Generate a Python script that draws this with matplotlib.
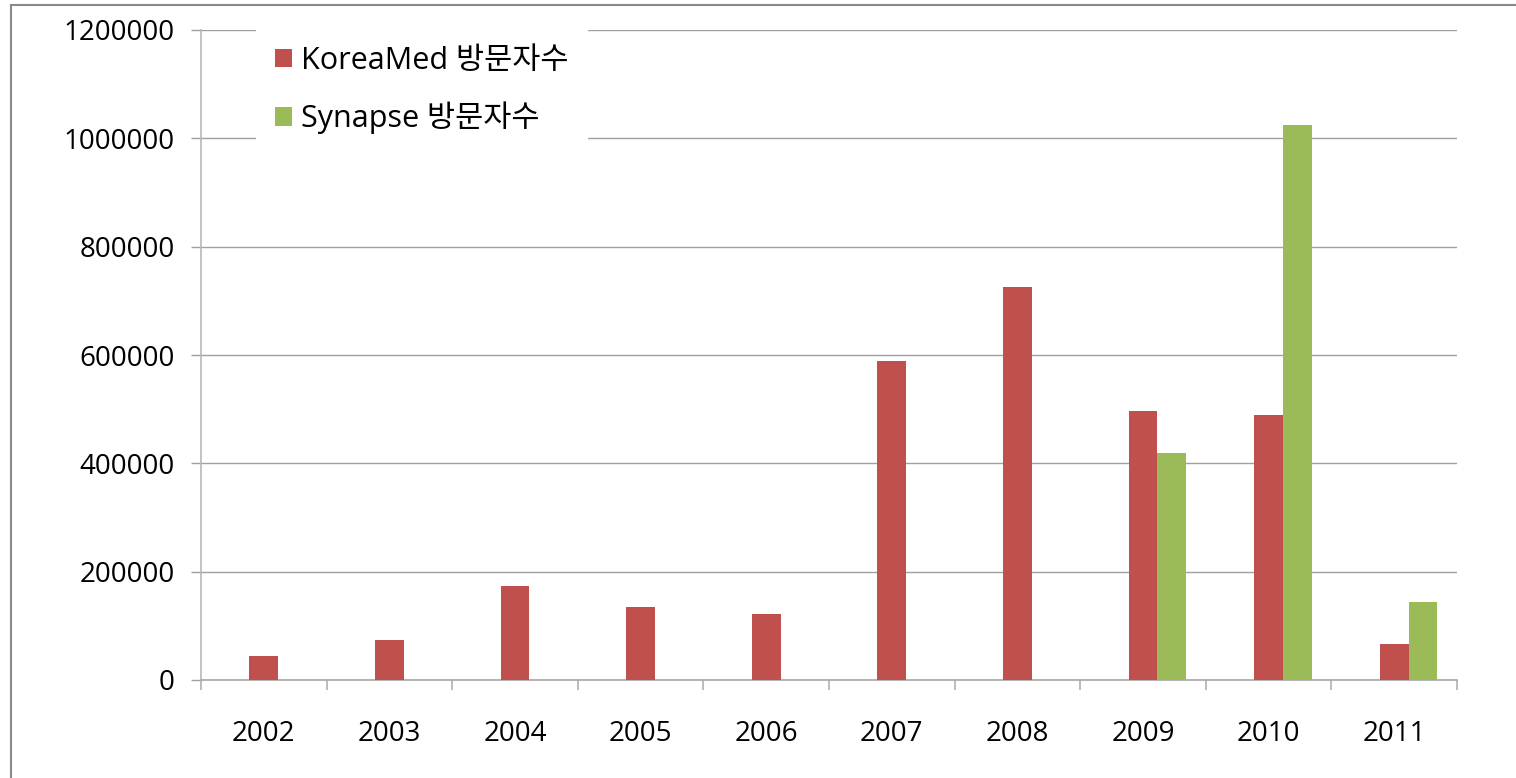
import matplotlib
matplotlib.use("Agg")
import matplotlib.pyplot as plt
import numpy as np
from matplotlib.patches import Patch, Rectangle
from matplotlib.lines import Line2D

plt.rcParams['font.family'] = ['Open Sans', 'Noto Sans CJK KR', 'DejaVu Sans']
plt.rcParams['hatch.color'] = '#d0d0d0'
plt.rcParams['hatch.linewidth'] = 1.0

years = ['2002', '2003', '2004', '2005', '2006', '2007', '2008', '2009', '2010', '2011']
koreamed = [45000, 74000, 174000, 135000, 122000, 589000, 726000, 497000, 489000, 66000]
synapse = [0, 0, 0, 0, 0, 0, 0, 419000, 1024000, 144000]
series_names = ['KoreaMed 방문자수', 'Synapse 방문자수']
yticks = [0, 200000, 400000, 600000, 800000, 1000000, 1200000]

red = '#C0504D'
green = '#9BBB59'
grid_c = '#a0a0a0'

fig = plt.figure(figsize=(15.16, 7.78), dpi=100)

# slide-like frame decoration
fig.add_artist(Rectangle((0, 0), 11/1516, 1, transform=fig.transFigure,
                         facecolor='white', edgecolor='none', hatch='---',
                         zorder=0))
fig.add_artist(Line2D([11/1516, 11/1516], [0, 1 - 5/778], transform=fig.transFigure,
                      color='#8a8a8a', lw=1.5))
fig.add_artist(Line2D([11/1516, 1], [1 - 5/778, 1 - 5/778], transform=fig.transFigure,
                      color='#8a8a8a', lw=1.5))

ax = fig.add_axes([201/1516, 1 - 680/778, 1256/1516, 650/778])
x = np.arange(len(years))
w = 0.228
ax.bar(x, koreamed, width=w, color=red, align='center', zorder=3, label=series_names[0])
ax.bar(x + w, synapse, width=w, color=green, align='center', zorder=3, label=series_names[1])

ax.set_xlim(-0.5, len(years) - 0.5)
ax.set_ylim(0, 1200000)
ax.set_yticks(yticks)
ax.set_yticklabels([str(v) for v in yticks], fontsize=20)
ax.yaxis.grid(True, color=grid_c, lw=1.0, zorder=0)
ax.set_axisbelow(True)

ax.set_xticks(x)
ax.set_xticklabels(years, fontsize=20)
ax.tick_params(axis='x', which='major', length=0, pad=29)
ax.set_xticks(np.arange(-0.5, len(years)), minor=True)
ax.tick_params(axis='x', which='minor', length=7, width=1.2, color='#b0b0b0')
ax.tick_params(axis='y', length=7, width=1.0, color=grid_c, pad=12)

for s in ['top', 'right']:
    ax.spines[s].set_visible(False)
ax.spines['left'].set_color('#b8b8b8')
ax.spines['left'].set_linewidth(1.2)
ax.spines['bottom'].set_color('#a8a8a8')
ax.spines['bottom'].set_linewidth(1.2)

handles = [Patch(facecolor=red, edgecolor='none'), Patch(facecolor=green, edgecolor='none')]
leg = ax.legend(handles, series_names, loc='upper left',
                bbox_to_anchor=((256 - 201) / 1256, (680 - 27) / 650),
                borderaxespad=0, fontsize=22, frameon=True, fancybox=False,
                handlelength=0.56, handleheight=0.56, handletextpad=0.3,
                labelspacing=0.84, borderpad=0.62)
leg.get_frame().set_facecolor('white')
leg.get_frame().set_edgecolor('none')
leg.get_frame().set_alpha(1)
leg.set_zorder(5)

fig.savefig('out.png', dpi=100)
